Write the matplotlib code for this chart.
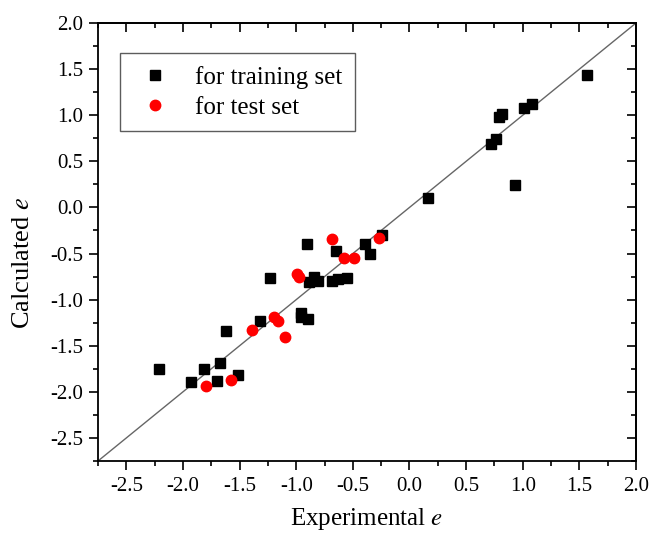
import matplotlib.pyplot as plt
from matplotlib.ticker import MultipleLocator

plt.rcParams['font.family'] = 'Liberation Serif'
plt.rcParams['mathtext.fontset'] = 'stix'
plt.rcParams['axes.unicode_minus'] = False

# training set (experimental, calculated)
train_x = [1.57, 1.08, 1.01, 0.82, 0.79, 0.76, 0.72, 0.935, 0.16,
           -0.24, -0.39, -0.35, -0.905, -0.65, -0.55, -0.63, -0.68,
           -0.81, -0.84, -0.89, -1.23, -0.96, -0.96, -0.90, -1.32,
           -1.62, -2.21, -1.81, -1.67, -1.93, -1.70, -1.51]
train_y = [1.44, 1.12, 1.08, 1.01, 0.98, 0.74, 0.69, 0.24, 0.105,
           -0.30, -0.40, -0.51, -0.40, -0.47, -0.76, -0.78, -0.80,
           -0.80, -0.75, -0.81, -0.76, -1.15, -1.19, -1.21, -1.23,
           -1.34, -1.75, -1.75, -1.69, -1.89, -1.88, -1.82]

# test set
test_x = [-0.27, -0.68, -0.58, -0.49, -0.99, -0.976, -1.20, -1.16,
          -1.39, -1.10, -1.80, -1.575]
test_y = [-0.33, -0.34, -0.55, -0.55, -0.72, -0.75, -1.19, -1.23,
          -1.33, -1.41, -1.94, -1.87]

lims = [-2.75, 2.0]

fig = plt.figure(figsize=(6.49, 5.39), dpi=100)
ax = fig.add_axes([0.151, 0.1447, 0.829, 0.8126])

ax.plot(lims, lims, color='#666666', lw=1.0, zorder=1)
ax.plot(train_x, train_y, 's', color='black', ms=6.5, ls='none',
        label='for training set', zorder=2)
ax.plot(test_x, test_y, 'o', color='red', ms=7.5, ls='none',
        label='for test set', zorder=3)

ax.set_xlim(lims)
ax.set_ylim(lims)


def set_ticks(axis):
    axis.set_major_locator(MultipleLocator(0.5))
    axis.set_minor_locator(MultipleLocator(0.25))


set_ticks(ax.xaxis)
set_ticks(ax.yaxis)
ax.tick_params(which='both', direction='out', width=1.2, labelsize=15)
ax.tick_params(axis='x', which='both', pad=5)
ax.tick_params(axis='y', which='both', pad=4)
ax.tick_params(which='major', length=6.5)
ax.tick_params(which='minor', length=3.5)

# top and right ticks point inwards, no labels
top = ax.secondary_xaxis('top')
right = ax.secondary_yaxis('right')
set_ticks(top.xaxis)
set_ticks(right.yaxis)
for sec in (top, right):
    sec.tick_params(which='both', direction='in', width=1.2,
                    labeltop=False, labelright=False)
    sec.tick_params(which='major', length=6.5)
    sec.tick_params(which='minor', length=3.5)
    for s in sec.spines.values():
        s.set_linewidth(1.3)
for s in ax.spines.values():
    s.set_linewidth(1.3)

ax.set_xlabel('Experimental $e$', fontsize=18, labelpad=7)
ax.set_ylabel('Calculated $e$', fontsize=19)
ax.yaxis.set_label_coords(-0.119, 0.452)

leg = ax.legend(loc='upper left', bbox_to_anchor=(0.041, 0.9315),
                fontsize=18, fancybox=False, edgecolor='#333333',
                handletextpad=0.7, borderpad=0.5, labelspacing=0.3,
                handlelength=1.8, borderaxespad=0)
leg.get_frame().set_linewidth(1.0)

fig.savefig('out.png', dpi=100)
